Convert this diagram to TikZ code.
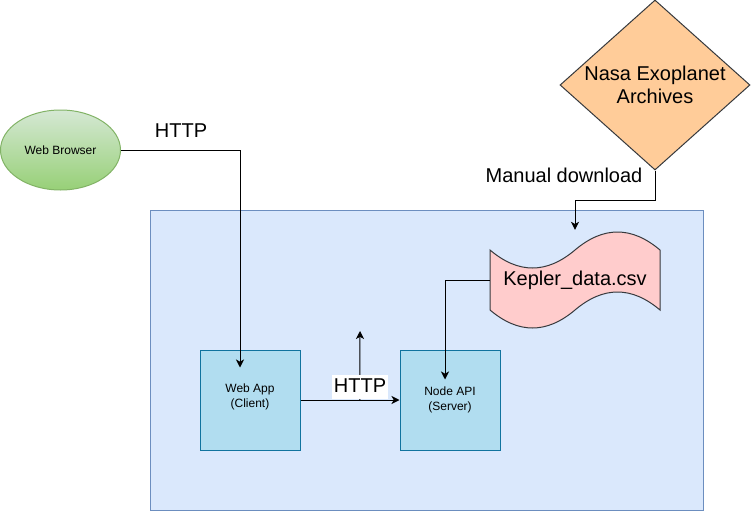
\documentclass[tikz,border=0pt]{standalone}
\usepackage{fontspec}
\setmainfont{Liberation Sans}
\usetikzlibrary{shapes.geometric,arrows.meta,calc}
\definecolor{contFill}{HTML}{DAE8FC}
\definecolor{contLine}{HTML}{6C8EBF}
\definecolor{boxFill}{HTML}{B1DDF0}
\definecolor{boxLine}{HTML}{10739E}
\definecolor{grTop}{HTML}{D5E8D4}
\definecolor{grBot}{HTML}{97D077}
\definecolor{grLine}{HTML}{82B366}
\definecolor{orFill}{HTML}{FFCC99}
\definecolor{darkLine}{HTML}{36393D}
\definecolor{pinkFill}{HTML}{FFCCCC}
\begin{document}
\begin{tikzpicture}[x=1pt,y=-1pt,
  conn/.style={draw=black,line width=1pt,-{Stealth[length=8pt,width=8pt,inset=2.2pt]}},
  bigtext/.style={font=\fontsize{20}{23}\selectfont},
  smalltext/.style={font=\fontsize{12}{14.5}\selectfont},
  boxnode/.style={rectangle,draw=boxLine,fill=boxFill,line width=1pt,minimum width=100pt,minimum height=100pt,inner sep=0pt,align=center,smalltext},
  ]
\useasboundingbox (0,0) rectangle (752,511);
% container
\node[draw=contLine, fill=contFill, line width=1pt, minimum width=553pt, minimum height=300pt, inner sep=0pt] (cont) at (426.5,360) {};
% web browser
\node[ellipse, draw=grLine, line width=1pt, top color=grTop, bottom color=grBot, minimum width=120pt, minimum height=80pt, inner sep=0pt, smalltext] (browser) at (60.5,150) {Web Browser};
% boxes
\node[boxnode, text depth=8.5pt] (webapp) at (250,400) {Web App\\(Client)};
\node[boxnode] (napi) at (450,400) {Node API\\(Server)};
% tape
\draw[draw=darkLine, fill=pinkFill, line width=1pt] (490,250) .. controls (518.33,274) and (546.67,274) .. (575,250) .. controls (603.33,226) and (631.67,226) .. (660,250) -- (660,310) .. controls (631.67,286) and (603.33,286) .. (575,310) .. controls (546.67,334) and (518.33,334) .. (490,310) -- cycle;
\node[minimum width=170pt, minimum height=100pt, inner sep=0pt, bigtext] (kepler) at (575,280) {Kepler\_data.csv};
% diamond
\node[diamond, draw=darkLine, fill=orFill, line width=1pt, shape aspect=1.118, minimum width=190pt, minimum height=170pt, inner sep=0pt, align=center, bigtext] (nasa) at (655,85) {Nasa Exoplanet\\Archives};
% connectors
\draw[conn] (browser.east) -| ([xshift=-10pt,yshift=-18pt]webapp.north);
\node[bigtext] (http1) at (181,130.5) {HTTP};
\draw[conn] (webapp.east) -- (napi.west);
\coordinate (upStart) at ($(webapp.east)!0.6!(napi.west)$);
\coordinate (upTip) at (360,331);
\draw[conn] (upStart) -- (upTip);
\node[fill=white, inner sep=2pt, text height=15pt, text depth=5pt, anchor=north, bigtext] (http2) at (360,375) {HTTP};
\draw[conn] (kepler.west) -| ([xshift=-5pt,yshift=-30pt]napi.north);
\draw[conn] (nasa.south) -- ++(0,30) -| (kepler.north);
\node[bigtext] (manual) at (564,175) {Manual download};
\end{tikzpicture}
\end{document}
